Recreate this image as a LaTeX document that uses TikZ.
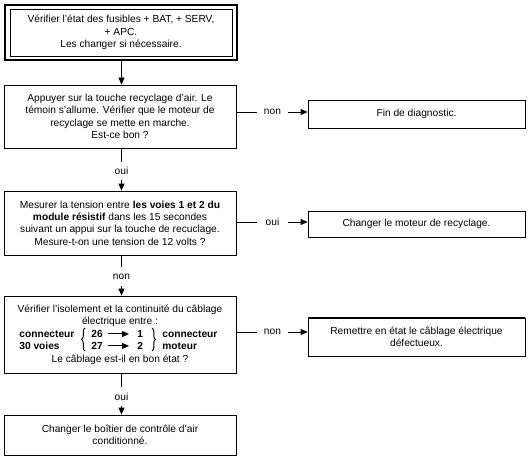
\documentclass[tikz,border=0pt]{standalone}
\usepackage{fontspec}
\setmainfont{Liberation Sans}
\usetikzlibrary{positioning,arrows.meta,decorations.pathreplacing}
\tikzset{box/.style={draw,line width=0.8pt,align=center,inner sep=0pt,font=\fontsize{10.2}{12.4}\selectfont},
  lbl/.style={inner sep=0pt,minimum width=31pt,minimum height=18pt,font=\fontsize{10.2}{12.4}\selectfont},
  txt/.style={inner sep=0pt,align=center,font=\fontsize{10.2}{12.4}\selectfont},
  bld/.style={txt,anchor=base west,font=\fontsize{10.2}{12.4}\selectfont\bfseries}}

\begin{document}
\begin{tikzpicture}[x=1pt,y=-1pt,>={Triangle[length=7pt,width=6pt]},line width=0.8pt]
    \useasboundingbox (0,0) rectangle (532,457);
    % left column
    \node[draw,line width=1.2pt,minimum width=232pt,minimum height=55pt] (b1) at (121,32.5) {};
    \node[box,minimum width=222pt,minimum height=47pt] (b1i) at (121,32.5) {V\'erifier l'\'etat des fusibles + BAT, + SERV,\\+ APC.\\Les changer si n\'ecessaire.};
    \node[box,minimum width=232pt,minimum height=63pt] (b2) at (120,116.5) {Appuyer sur la touche recyclage d'air. Le\\t\'emoin s'allume. V\'erifier que le moteur de\\recyclage se mette en marche.\\Est-ce bon ?};
    \node[box,minimum width=232pt,minimum height=64pt] (b3) at (120,223) {Mesurer la tension entre \textbf{les voies 1 et 2 du}\\\textbf{module r\'esistif} dans les 15 secondes\\suivant un appui sur la touche de recuclage.\\Mesure-t-on une tension de 12 volts ?};
    \node[box,minimum width=232pt,minimum height=77pt] (b4) at (120,334.5) {};
    \node[box,minimum width=232pt,minimum height=40pt] (b5) at (120,435) {Changer le bo\^itier de contr\^ole d'air\\conditionn\'e.};

    % inside box 4
    \node[txt] (t4a) at (120,315.7) {V\'erifier l'isolement et la continuit\'e du c\^ablage\\\'electrique entre :};
    \node[bld] (c30a) at (19,337.5) {connecteur};
    \node[bld] (c30b) at (19,349.5) {30 voies};
    \node[bld] (v26) at (91,337.5) {26};
    \node[bld] (v27) at (91,349.5) {27};
    \node[bld] (v1) at (137,337.5) {1};
    \node[bld] (v2) at (137,349.5) {2};
    \node[bld] (cma) at (162,337.5) {connecteur};
    \node[bld] (cmb) at (162,349.5) {moteur};
    \node[txt] (t4b) at (120,360) {Le c\^ablage est-il en bon \'etat ?};
    \draw[->,line width=1pt,shorten <=5pt,shorten >=8pt] (v26.east) -- (v26.east -| v1.west);
    \draw[->,line width=1pt,shorten <=5pt,shorten >=8pt] (v27.east) -- (v27.east -| v2.west);
    \draw[decorate,decoration={brace,amplitude=3.5pt},line width=1pt] (85,351) -- (85,328);
    \draw[decorate,decoration={brace,amplitude=3.5pt},line width=1pt] (152,328) -- (152,351);

    % right column
    \node[box,minimum width=217pt,minimum height=28pt] (f2) at (416.5,114) {Fin de diagnostic.};
    \node[box,minimum width=217pt,minimum height=26pt] (f3) at (416.5,224) {Changer le moteur de recyclage.};
    \node[box,minimum width=217pt,minimum height=38pt] (f4) at (416.5,337) {Remettre en \'etat le c\^ablage \'electrique\\d\'efectueux.};
    \draw[line width=2pt] (f4.north west) -- (f4.north east);

    % labels
    \node[lbl] (n2) at (272.5,112) {non};
    \node[lbl] (n3) at (272.5,222) {oui};
    \node[lbl] (n4) at (272.5,332) {non};
    \node[lbl] (o2) at (121.5,171) {oui};
    \node[lbl] (o3) at (121.5,276.5) {non};
    \node[lbl] (o4) at (121.5,396.5) {oui};

    % connectors
    \draw[->] (b1.south -| o2) -- (o2 |- b2.north);
    \draw (b2.south -| o2) -- (o2.north);
    \draw[->] (o2.south) -- (o2 |- b3.north);
    \draw (b3.south -| o3) -- (o3.north);
    \draw[->] (o3.south) -- (o3 |- b4.north);
    \draw (b4.south -| o4) -- (o4.north);
    \draw[->] (o4.south) -- (o4 |- b5.north);
    \draw (b2.east |- n2) -- (n2.west);
    \draw[->] (n2.east) -- (n2.east -| f2.west);
    \draw (b3.east |- n3) -- (n3.west);
    \draw[->] (n3.east) -- (n3.east -| f3.west);
    \draw (b4.east |- n4) -- (n4.west);
    \draw[->] (n4.east) -- (n4.east -| f4.west);
\end{tikzpicture}
\end{document}
